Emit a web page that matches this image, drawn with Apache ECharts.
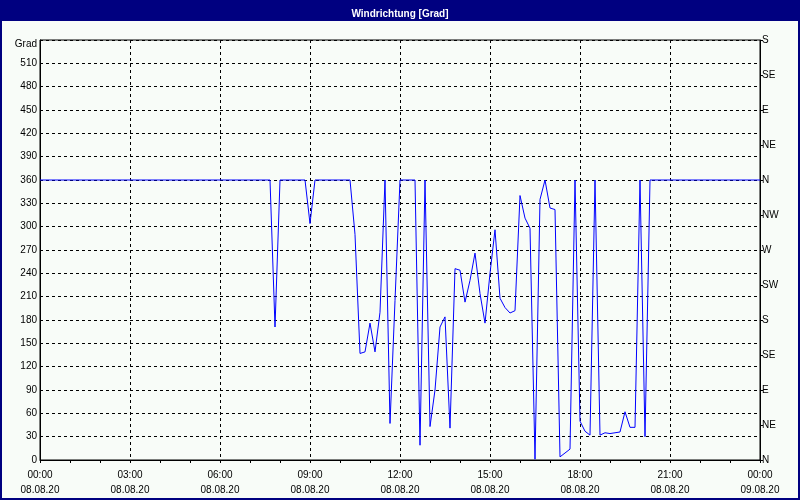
<!DOCTYPE html>
<html>
<head>
<meta charset="utf-8">
<script src="https://cdn.jsdelivr.net/npm/echarts@6/dist/echarts.min.js"></script>
<style>
html,body{margin:0;padding:0;background:#f8fcf8;}
#chart{width:800px;height:500px;}
</style>
</head>
<body>
<div id="chart"></div>
<script>
// Wind direction, 10-minute readings from 08.08.20 00:00 to 09.08.20 00:00
var stepMinutes = 10;
var windDir = [
  360,360,360,360,360,360,360,360,360,360,
  360,360,360,360,360,360,360,360,360,360,
  360,360,360,360,360,360,360,360,360,360,
  360,360,360,360,360,360,360,360,360,360,
  360,360,360,360,360,360,360,171,360,360,
  360,360,360,360,304,360,360,360,360,360,
  360,360,360,290,137,139,176,139,190,360,
  47,205,360,360,360,360,19,360,43,90,
  171,184,41,246,244,203,231,266,214,176,
  240,296,208,196,189,192,340,311,298,1,
  335,360,324,322,4,9,14,360,50,37,
  32,360,32,35,34,35,36,62,42,42,
  360,30,360,360,360,360,360,360,360,360,
  360,360,360,360,360,360,360,360,360,360,
  360,360,360,360,360
];
var timeLabels = ['00:00','03:00','06:00','09:00','12:00','15:00','18:00','21:00','00:00'];
var dateLabels = ['08.08.20','08.08.20','08.08.20','08.08.20','08.08.20','08.08.20','08.08.20','08.08.20','09.08.20'];
var leftTicks = {540: 'Grad'};
var compassLabels = ['N','NE','E','SE','S','SW','W','NW','N','NE','E','SE','S'];
var titleText = 'Windrichtung [Grad]';

var seriesData = windDir.map(function (v, i) { return [i * stepMinutes, v]; });
var FONT = 'Liberation Sans';

var chart = echarts.init(document.getElementById('chart'), null, {renderer: 'canvas'});
chart.setOption({
  backgroundColor: '#f8fcf8',
  animation: false,
  title: {
    text: titleText,
    left: 'center',
    top: 4,
    textStyle: {color: '#ffffff', fontSize: 10, fontWeight: 'bold', fontFamily: FONT}
  },
  graphic: [
    {type: 'rect', z: -1, shape: {x: 0, y: 0, width: 800, height: 21}, style: {fill: '#000080'}},
    {type: 'rect', z: 100, shape: {x: 1, y: 1, width: 798, height: 498}, style: {fill: 'none', stroke: '#000080', lineWidth: 2}}
  ],
  grid: {left: 40, right: 40, top: 40, bottom: 40, show: true, borderColor: '#000', borderWidth: 1, backgroundColor: 'transparent'},
  xAxis: {
    type: 'value', min: 0, max: 1440, interval: 180,
    axisLine: {show: true, lineStyle: {color: '#000', width: 1}},
    axisTick: {show: true, length: 3, lineStyle: {color: '#000'}},
    minorTick: {show: true, splitNumber: 3, length: 3, lineStyle: {color: '#000'}},
    splitLine: {show: true, lineStyle: {color: '#000', type: [3, 3], width: 1}},
    axisLabel: {
      margin: 8, color: '#000', fontSize: 10, fontFamily: FONT, lineHeight: 15,
      formatter: function (v) { var k = Math.round(v / 180); return timeLabels[k] + '\n' + dateLabels[k]; }
    }
  },
  yAxis: [
    {
      type: 'value', min: 0, max: 540, interval: 30, position: 'left',
      axisLine: {show: true, lineStyle: {color: '#000', width: 1}},
      axisTick: {show: false},
      splitLine: {show: true, lineStyle: {color: '#000', type: [3, 3], width: 1}},
      axisLabel: {
        margin: 3, color: '#000', fontSize: 10, fontFamily: FONT,
        formatter: function (v) { return leftTicks[v] ? '{g|' + leftTicks[v] + '}' : String(v); },
        rich: {g: {color: '#000', fontSize: 10, fontFamily: FONT, padding: [9, 0, 0, 0]}}
      }
    },
    {
      type: 'value', min: 0, max: 540, interval: 45, position: 'right',
      axisLine: {show: true, lineStyle: {color: '#000', width: 1}},
      axisTick: {show: true, length: 3, lineStyle: {color: '#000'}},
      splitLine: {show: false},
      axisLabel: {
        margin: 2, color: '#000', fontSize: 10, fontFamily: FONT,
        formatter: function (v) { return compassLabels[Math.round(v / 45)]; }
      }
    }
  ],
  series: [{
    type: 'line',
    data: seriesData,
    yAxisIndex: 0,
    showSymbol: false,
    symbol: 'none',
    smooth: false,
    lineStyle: {color: '#0000ff', width: 1},
    z: 5
  }]
});
</script>
</body>
</html>
